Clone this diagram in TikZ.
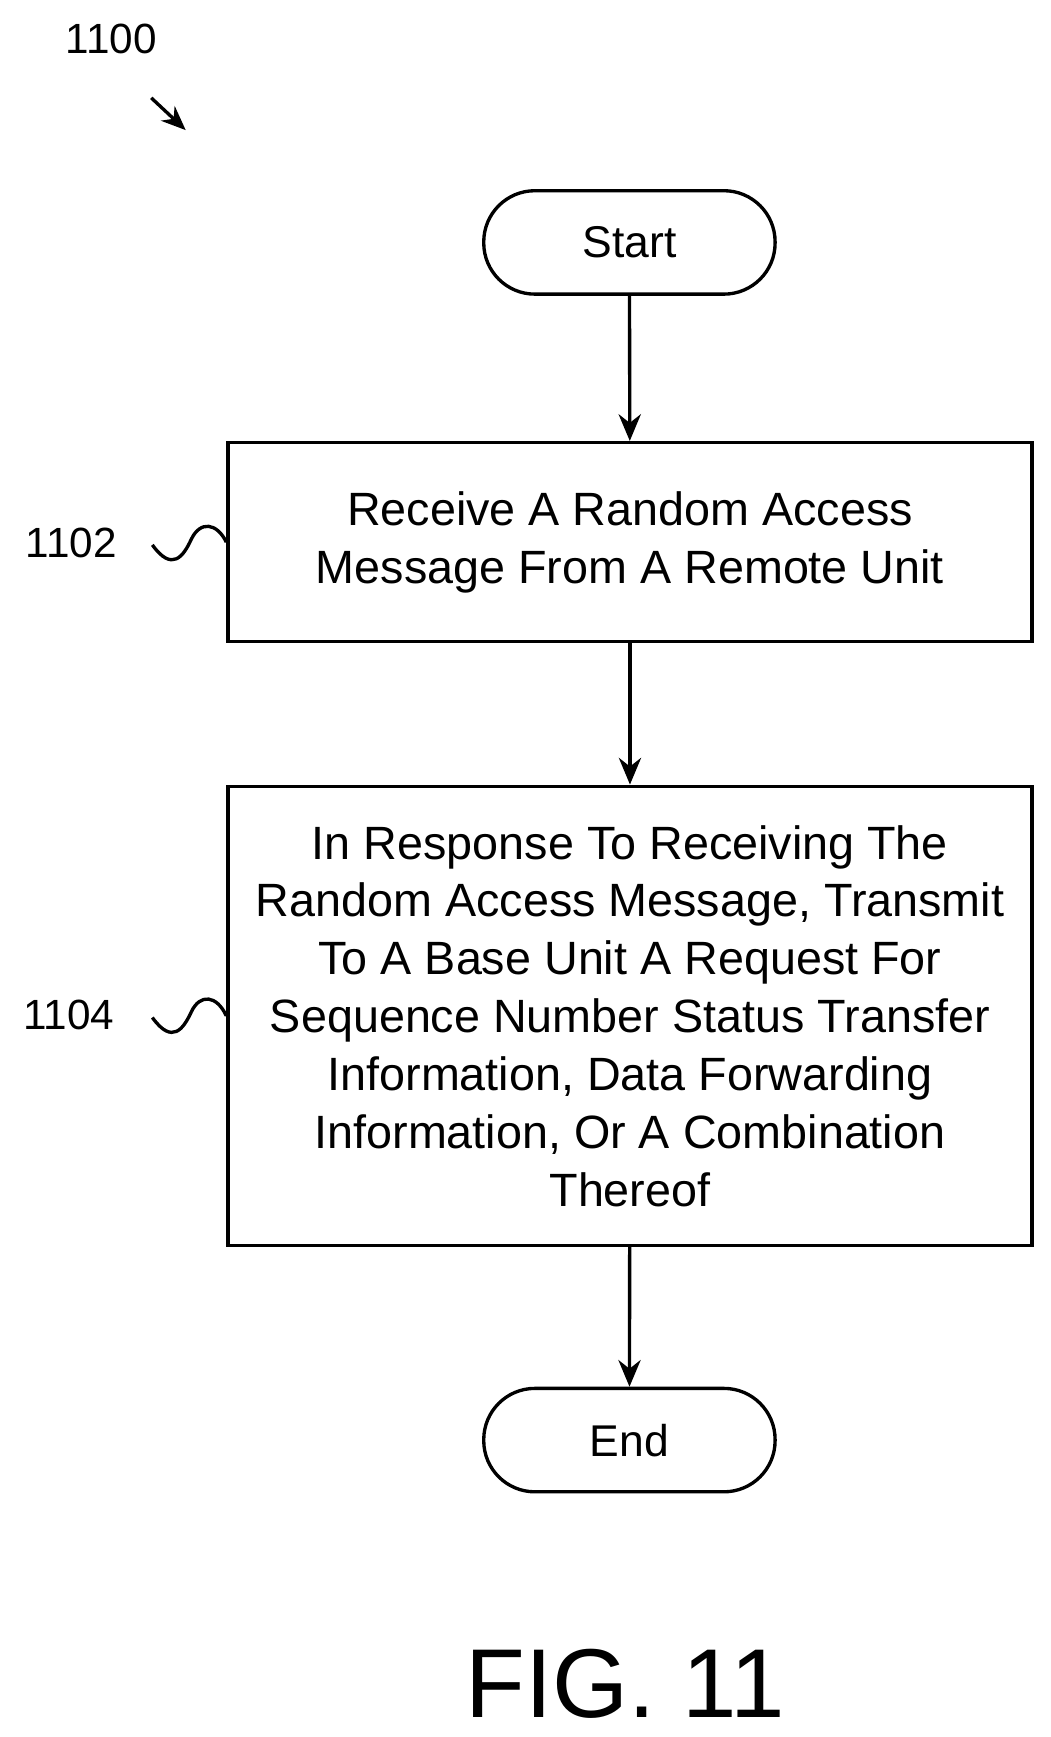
\documentclass[tikz,border=0pt]{standalone}
\usepackage{fontspec}
\setmainfont{Liberation Sans}
\usetikzlibrary{arrows.meta}
\begin{document}
\begin{tikzpicture}[x=1pt,y=-1pt,line width=3pt,
  box/.style={draw,minimum width=723pt,align=center,font=\fontsize{42}{52}\selectfont},
  term/.style={draw,rounded corners=46pt,minimum width=262pt,minimum height=93pt,font=\fontsize{40}{46}\selectfont},
  arr/.style={-{Stealth[length=24pt,width=20pt]}},
  lbl/.style={font=\fontsize{38}{40}\selectfont}]
\useasboundingbox (0,0) rectangle (945,1562);
\node[term] (start) at (566,218) {Start};
\node[box,minimum height=179pt] (b1) at (566.5,487.5) {Receive A Random Access\\Message From A Remote Unit};
\node[box,minimum height=413pt] (b2) at (566.5,913.5) {In Response To Receiving The\\Random Access Message, Transmit\\To A Base Unit A Request For\\Sequence Number Status Transfer\\Information, Data Forwarding\\Information, Or A Combination\\Thereof};
\node[term] (end) at (566,1295) {End};
\draw[arr] (start) -- (b1);
\draw[arr] (b1) -- (b2);
\draw[arr] (b2) -- (end);
\node[lbl] (l1100) at (100,35) {1100};
\coordinate (a0) at (136,88);
\coordinate (a1) at (167,117);
\draw[-{Stealth[length=22pt,width=18pt]}] (a0) -- (a1);
\node[lbl] (l1102) at (64,488) {1102};
\coordinate (s1) at (137,490);
\draw (s1) .. controls (155,515) and (165,500) .. (172,485) .. controls (180,468) and (195,470) .. (b1.west);
\node[lbl] (l1104) at (62,913) {1104};
\coordinate (s2) at (137,915);
\draw (s2) .. controls (155,940) and (165,925) .. (172,910) .. controls (180,893) and (195,895) .. (b2.west);
\node[font=\fontsize{88}{92}\selectfont] (fig) at (562,1514) {FIG. 11};
\end{tikzpicture}
\end{document}
